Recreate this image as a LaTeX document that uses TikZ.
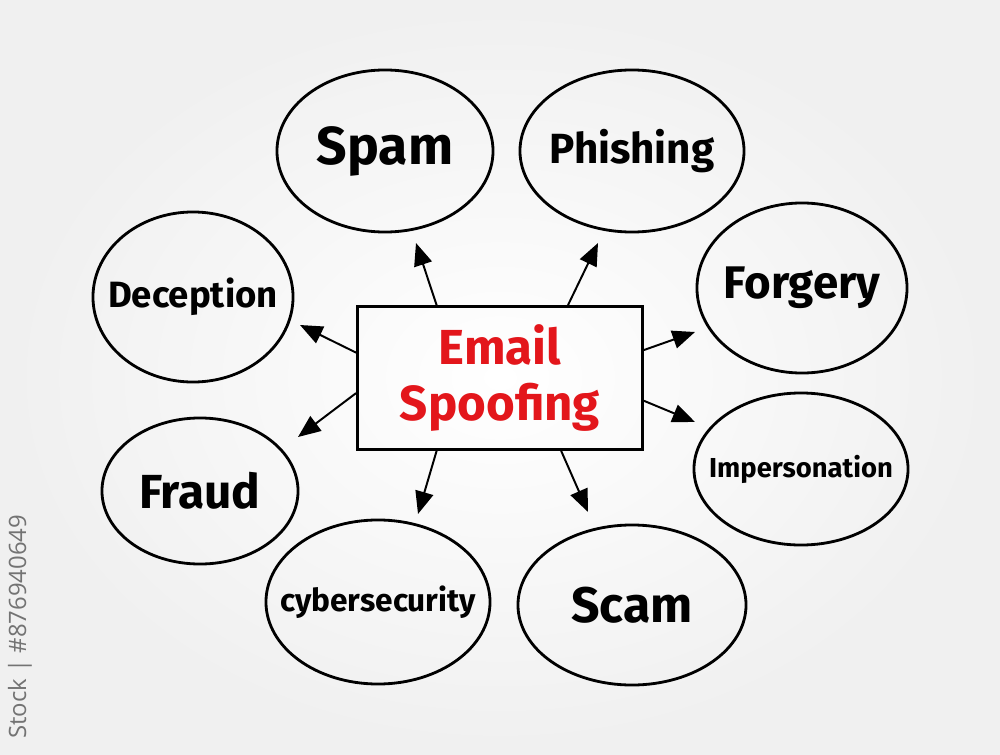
\documentclass[tikz,border=0pt]{standalone}
\usepackage{fontspec}
\setmainfont{Fira Sans}
\newfontfamily\idfont{Open Sans}
\usetikzlibrary{shapes.geometric,arrows.meta}
\definecolor{spoofred}{HTML}{E3161B}
\tikzset{
  bubble/.style={ellipse, draw, line width=2pt, inner sep=0pt},
  arr/.style={line width=1.4pt, -{Triangle[length=16pt,width=13pt]}},
}
\begin{document}
\begin{tikzpicture}[x=0.025cm,y=-0.025cm]
\shade[inner color=white, outer color=black!6] (0,0) rectangle (1000,755);
\useasboundingbox (0,0) rectangle (1000,755);
% center box
\node[draw, line width=2pt, minimum width=7.125cm, minimum height=3.575cm,
  align=center, text=spoofred, font=\bfseries\fontsize{35}{40}\selectfont] (box) at (500,378) {Email\\Spoofing};
% bubbles
\node[bubble, minimum width=5.4cm, minimum height=4.05cm,
  label={[font=\bfseries\fontsize{38}{44}\selectfont]center:Spam}] (spam) at (385,151) {};
\node[bubble, minimum width=5.6cm, minimum height=4.05cm,
  label={[font=\bfseries\fontsize{30}{36}\selectfont]center:Phishing}] (phish) at (632,151) {};
\node[bubble, minimum width=5cm, minimum height=4.25cm,
  label={[font=\bfseries\fontsize{26}{32}\selectfont]center:Deception}] (decep) at (193,297) {};
\node[bubble, minimum width=5.25cm, minimum height=4.25cm,
  label={[font=\bfseries\fontsize{32.5}{38}\selectfont]center:Forgery}] (forg) at (802,288) {};
\node[bubble, minimum width=5.35cm, minimum height=3.8cm,
  label={[font=\bfseries\fontsize{19.5}{24}\selectfont]center:Impersonation}] (imper) at (801,469) {};
\node[bubble, minimum width=4.9cm, minimum height=3.65cm,
  label={[font=\bfseries\fontsize{34}{40}\selectfont]center:Fraud}] (fraud) at (200,491) {};
\node[bubble, minimum width=5.6cm, minimum height=4.1cm,
  label={[font=\bfseries\fontsize{22.5}{28}\selectfont]center:cybersecurity}] (cyber) at (378,602) {};
\node[bubble, minimum width=5.7cm, minimum height=4cm,
  label={[font=\bfseries\fontsize{35.5}{42}\selectfont]center:Scam}] (scam) at (632,605) {};
% arrow tips
\coordinate (t1) at (416,243);
\coordinate (t2) at (598,243);
\coordinate (t3) at (300,325);
\coordinate (t4) at (298,437);
\coordinate (t5) at (695,332);
\coordinate (t6) at (695,422);
\coordinate (t7) at (418,514);
\coordinate (t8) at (588,512);
\draw[arr] (box.131) -- (t1);
\draw[arr] (box.47) -- (t2);
\draw[arr] (box.170) -- (t3);
\draw[arr] (box.186) -- (t4);
\draw[arr] (box.11) -- (t5);
\draw[arr] (box.351) -- (t6);
\draw[arr] (box.229) -- (t7);
\draw[arr] (box.310) -- (t8);
% stock id
\node[rotate=90, anchor=east, text=black!55, font=\idfont\fontsize{17}{20}\selectfont] (stockid) at (20,510) {Stock | \#876940649};
\end{tikzpicture}
\end{document}
